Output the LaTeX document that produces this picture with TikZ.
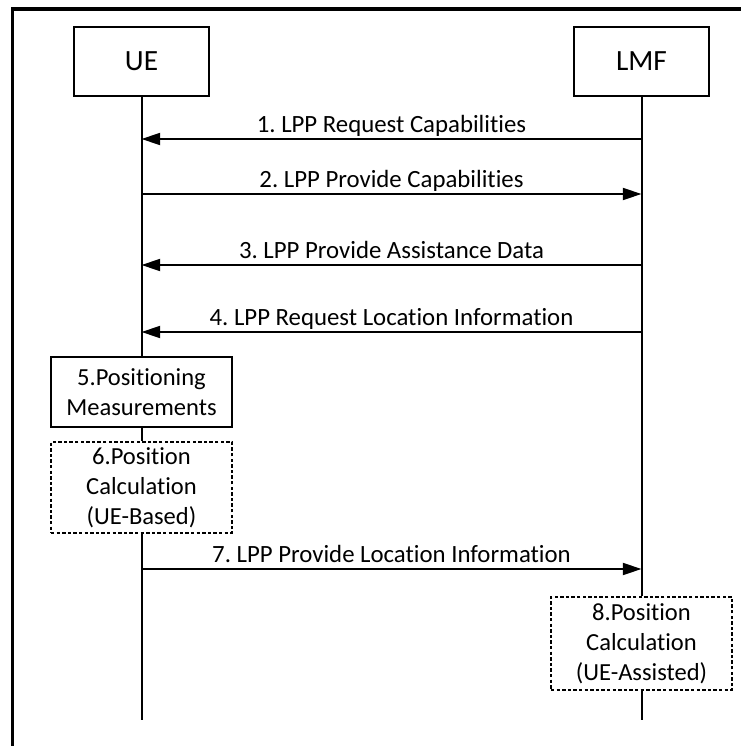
\documentclass[tikz,border=0pt]{standalone}
\usepackage{fontspec}
\setmainfont{Carlito}[Ligatures={NoCommon,NoContextual}]
\frenchspacing
\usetikzlibrary{arrows.meta,positioning}

\begin{document}
\begin{tikzpicture}[
  x=0.75pt, y=-0.75pt,
  font=\fontsize{18.4}{22.5}\selectfont,
  actor/.style={
    draw=black, line width=1.5pt,
    minimum width=101.25pt, minimum height=51.75pt,
    inner sep=0pt, align=center, font=\fontsize{22}{26}\selectfont
  },
  stepbox/.style={
    draw=black, line width=1.5pt,
    minimum width=135.75pt, inner sep=0pt, align=center
  },
  optbox/.style={stepbox, line width=1.3pt, dash pattern=on 2.6pt off 1.6pt},
  life/.style={line width=1.5pt, draw=black},
  msg/.style={-{Triangle[length=14pt, width=9pt]}, line width=1.5pt, draw=black},
  lbl/.style={anchor=base, yshift=5.25pt, inner sep=0pt, font=\fontsize{18.6}{22}\selectfont},
  frame/.style={line width=2.4pt, draw=black}
]

\useasboundingbox (0,0) rectangle (740,746);

% outer frame (cut off on the right and bottom)
\coordinate (frametr) at (741,9);
\coordinate (framebl) at (12.5,747);
\draw[frame] (frametr) -| (framebl);

% actors
\node[actor] (ue) at (141.5,61.5) {UE};
\node[actor] (lmf) at (641.5,61.5) {LMF};

% local steps
\node[stepbox, minimum height=52.5pt] (meas) at (141.5,392) {5.Positioning\\Measurements};
\node[optbox, minimum height=68.25pt] (calcue) at (141.5,487.5) {6.Position\\Calculation\\(UE-Based)};
\node[optbox, minimum height=69.75pt] (calclmf) at (641.5,643.5) {8.Position\\Calculation\\(UE-Assisted)};

% lifeline ends
\coordinate (ueend) at (141.5,720);
\coordinate (lmfend) at (641.5,720);

\draw[life] (ue) -- (meas);
\draw[life] (meas) -- (calcue);
\draw[life] (calcue) -- (ueend);
\draw[life] (lmf) -- (calclmf);
\draw[life] (calclmf) -- (lmfend);

% message rows
\coordinate (ue1) at (141.5,139);  \coordinate (lmf1) at (641.5,139);
\coordinate (ue2) at (141.5,194);  \coordinate (lmf2) at (641.5,194);
\coordinate (ue3) at (141.5,265);  \coordinate (lmf3) at (641.5,265);
\coordinate (ue4) at (141.5,332);  \coordinate (lmf4) at (641.5,332);
\coordinate (ue7) at (141.5,569);  \coordinate (lmf7) at (641.5,569);

\draw[msg] (lmf1) -- node[lbl] {1. LPP Request Capabilities} (ue1);
\draw[msg] (ue2) -- node[lbl] {2. LPP Provide Capabilities} (lmf2);
\draw[msg] (lmf3) -- node[lbl] {3. LPP Provide Assistance Data} (ue3);
\draw[msg] (lmf4) -- node[lbl] {4. LPP Request Location Information} (ue4);
\draw[msg] (ue7) -- node[lbl] {7. LPP Provide Location Information} (lmf7);

\end{tikzpicture}
\end{document}
